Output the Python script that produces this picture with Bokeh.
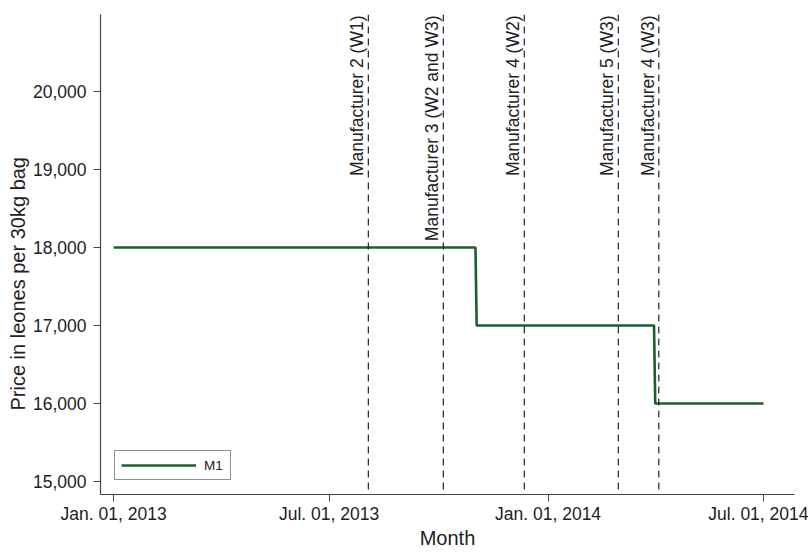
import numpy as np
import pandas as pd
from bokeh.plotting import figure
from bokeh.models import (ColumnDataSource, Range1d, FixedTicker, DatetimeTickFormatter,
                          NumeralTickFormatter, Span, Title)
from bokeh.core.properties import value
from bokeh.embed import file_html
from bokeh.resources import INLINE

# ---- data ----
price_dates = ["2013-01-01", "2013-11-01", "2013-11-02", "2014-03-31", "2014-04-01", "2014-07-01"]
prices = [18000, 18000, 17000, 17000, 16000, 16000]
series_name = "M1"

event_dates = ["2013-08-03", "2013-10-05", "2013-12-12", "2014-03-01", "2014-04-04"]
event_labels = ["Manufacturer 2 (W1)", "Manufacturer 3 (W2 and W3)", "Manufacturer 4 (W2)",
                "Manufacturer 5 (W3)", "Manufacturer 4 (W3)"]

x_tick_dates = ["2013-01-01", "2013-07-01", "2014-01-01", "2014-07-01"]
y_ticks = [15000, 16000, 17000, 18000, 19000, 20000]

x_label = "Month"
y_label = "Price in leones per 30kg bag"


def to_ms(d):
    return pd.Timestamp(d).value / 1e6


FONT = "Liberation Sans"
x_start, x_end = to_ms("2012-12-21"), to_ms("2014-07-27")
y_start, y_end = 14833, 20987

p = figure(width=808, height=552, x_axis_type="datetime",
           x_range=Range1d(x_start, x_end), y_range=Range1d(y_start, y_end),
           output_backend="svg", toolbar_location=None,
           min_border_left=100, min_border_right=14, min_border_top=14, min_border_bottom=58)

p.grid.visible = False
p.outline_line_color = None
p.background_fill_color = "white"

# event lines
for d in event_dates:
    p.add_layout(Span(location=to_ms(d), dimension="height", line_color="#222222",
                      line_width=1.2, line_dash="7 5"))

ev_src = ColumnDataSource(dict(x=pd.to_datetime(event_dates),
                               y=[y_end] * len(event_dates),
                               text=event_labels))
p.text(x="x", y="y", text="text", source=ev_src, angle=np.pi / 2,
       text_align="right", text_baseline="bottom", x_offset=-1, y_offset=1,
       text_font=value(FONT), text_font_size="17.5px", text_color="#222222")

src = ColumnDataSource(dict(x=pd.to_datetime(price_dates), y=prices))
p.line(x="x", y="y", source=src, line_color="#1b5e2e", line_width=2.6, legend_label=series_name)

# axes
fmt = "%b. %d, %Y"
p.xaxis.ticker = FixedTicker(ticks=[to_ms(d) for d in x_tick_dates])
p.xaxis.formatter = DatetimeTickFormatter(milliseconds=fmt, seconds=fmt, minsec=fmt, minutes=fmt,
                                          hourmin=fmt, hours=fmt, days=fmt, months=fmt, years=fmt)
p.yaxis.ticker = FixedTicker(ticks=y_ticks)
p.yaxis.formatter = NumeralTickFormatter(format="0,0")

p.xaxis.axis_label = x_label
for ax in (p.xaxis, p.yaxis):
    ax.axis_line_color = "#444444"
    ax.axis_line_width = 1.2
    ax.major_tick_line_color = "#444444"
    ax.major_tick_in = 0
    ax.major_tick_out = 7
    ax.minor_tick_line_color = None
    ax.major_label_text_font = FONT
    ax.major_label_text_font_size = "17.5px"
    ax.major_label_text_color = "#222222"
    ax.axis_label_text_font = FONT
    ax.axis_label_text_font_size = "20px"
    ax.axis_label_text_font_style = "normal"
    ax.axis_label_text_color = "#222222"
p.xaxis.major_label_standoff = 2
p.yaxis.major_label_standoff = 7
p.xaxis.axis_label_standoff = 0

# y axis title, placed lower like the original
ytitle = Title(text=y_label, align="left", offset=84, standoff=2,
               text_font=FONT, text_font_size="20px", text_font_style="normal",
               text_color="#222222")
p.add_layout(ytitle, "left")

# legend
lg = p.legend[0]
lg.location = "bottom_left"
lg.margin = 14
lg.padding = 6
lg.glyph_width = 75
lg.glyph_height = 16
lg.label_height = 16
lg.label_standoff = 8
lg.label_text_font = FONT
lg.label_text_font_size = "13.5px"
lg.label_text_color = "#222222"
lg.border_line_color = "#222222"
lg.border_line_width = 1
lg.background_fill_alpha = 1

open("out.html", "w").write(file_html(p, INLINE))
